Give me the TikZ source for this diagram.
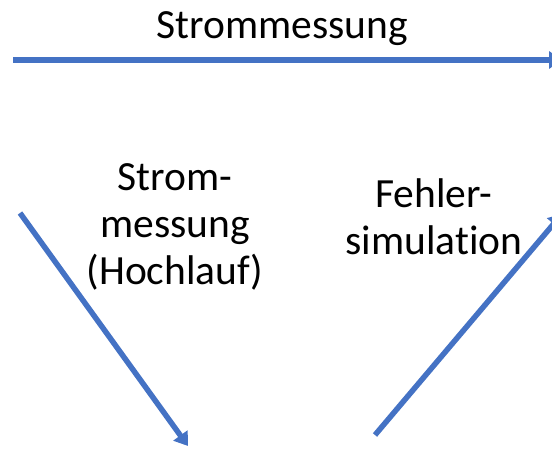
\documentclass[tikz,border=0pt]{standalone}
\usepackage{fontspec}
\setmainfont{Carlito}[Ligatures=NoCommon]
\usetikzlibrary{arrows.meta}
\definecolor{officeblue}{RGB}{68,114,196}
\tikzset{
  lbl/.style={inner sep=0pt, align=center, font=\fontsize{41.5}{47.5}\selectfont},
  conn/.style={draw=officeblue, line width=5.5pt, -{Triangle[width=17pt,length=13pt]}}
}
\begin{document}
\begin{tikzpicture}[x=1pt,y=-1pt]
\useasboundingbox (0,0) rectangle (552,449);
\node[lbl, anchor=base] (top) at (282,39) {Strommessung};
\node[lbl, anchor=base] (left) at (175,285) {Strom-\\messung\\(Hochlauf)};
\node[lbl, anchor=base] (right) at (434,255) {Fehler-\\simulation};
\coordinate (t1) at (13,60);
\coordinate (t2) at (562,60);
\coordinate (l1) at (20,213);
\coordinate (l2) at (188,446);
\coordinate (r1) at (375,435);
\coordinate (r2) at (562,214);
\draw[conn] (t1) -- (t2);
\draw[conn] (l1) -- (l2);
\draw[conn] (r1) -- (r2);
\end{tikzpicture}
\end{document}
